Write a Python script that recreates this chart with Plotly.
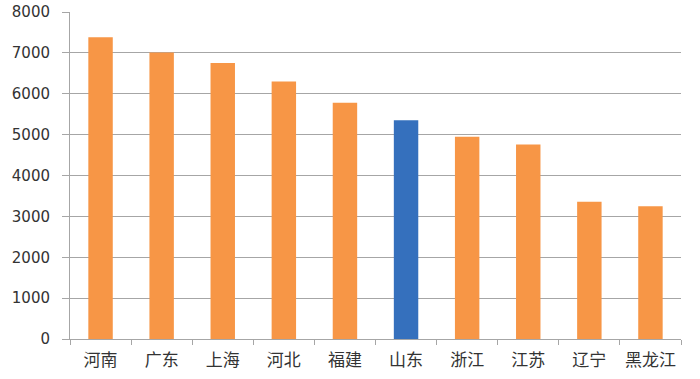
import plotly.graph_objects as go

provinces = ["河南", "广东", "上海", "河北", "福建", "山东", "浙江", "江苏", "辽宁", "黑龙江"]
values = [7380, 7010, 6750, 6300, 5780, 5350, 4950, 4760, 3360, 3250]
highlight = "山东"

colors = ["#3570bd" if p == highlight else "#f79646" for p in provinces]

fig = go.Figure(go.Bar(
    x=provinces, y=values, marker=dict(color=colors, line=dict(width=0)),
    width=0.4,
))
fig.update_layout(
    width=700, height=379,
    margin=dict(l=70, r=19, t=12, b=40, autoexpand=False),
    plot_bgcolor="white", paper_bgcolor="white",
    showlegend=False,
    font=dict(family="DejaVu Sans", size=13, color="#333333"),
)
fig.update_yaxes(
    range=[0, 8000], dtick=1000, showgrid=True, gridcolor="#a6a6a6", gridwidth=1,
    showline=True, linecolor="#a6a6a6", ticks="outside", ticklen=7, tickcolor="#a6a6a6",
    ticklabelstandoff=9,
    tickfont=dict(family="DejaVu Sans", size=15, color="#333333"), zeroline=False,
)
fig.update_xaxes(
    showline=True, linecolor="#a6a6a6", ticks="outside", ticklen=5, tickcolor="#a6a6a6",
    tickson="boundaries", ticklabelstandoff=6,
    tickfont=dict(family="Noto Sans CJK SC", size=17, color="#333333"),
)
fig.write_html("out.html", config={"displayModeBar": False},
               post_script="document.body.style.margin='0';")
